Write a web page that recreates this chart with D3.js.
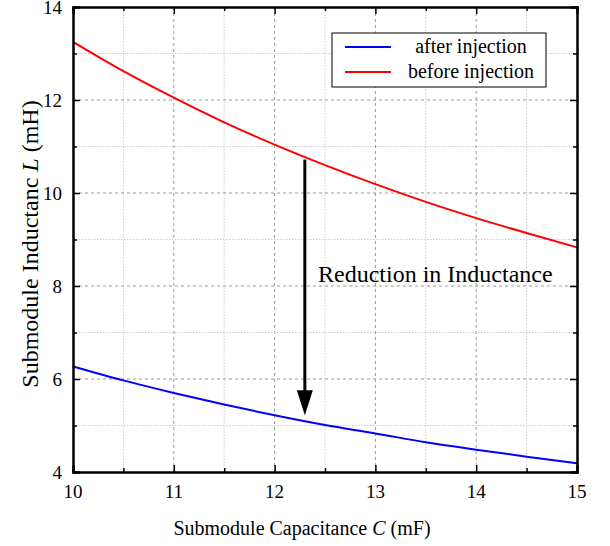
<!DOCTYPE html>
<html>
<head>
<meta charset="utf-8">
<script src="https://cdn.jsdelivr.net/npm/d3@7"></script>
<style>
  body { margin: 0; background: #fff; }
</style>
</head>
<body>
<div id="chart"></div>
<script>
// capacitance (mF)
var capacitance = [10, 10.5, 11, 11.5, 12, 12.5, 13, 13.5, 14, 14.5, 15];
// inductance (mH)
var beforeInjection = [13.25, 12.62, 12.05, 11.52, 11.04, 10.60, 10.19, 9.81, 9.46, 9.14, 8.83];
var afterInjection = [6.27, 5.97, 5.70, 5.45, 5.22, 5.01, 4.83, 4.64, 4.48, 4.33, 4.19];
var xTicks = [10, 11, 12, 13, 14, 15];
var yTicks = [4, 6, 8, 10, 12, 14];
var xMinor = [10.5, 11.5, 12.5, 13.5, 14.5];
var yMinor = [5, 7, 9, 11, 13];
// arrow: from C=12.3 on upper curve down to lower curve
var arrowC = 12.3, arrowFrom = 10.72, arrowTo = 5.22;

var serif = "'Liberation Serif', 'Times New Roman', serif";
var width = 610, height = 546;
var margin = { left: 73, right: 33, top: 7, bottom: 74 };

var svg = d3.select("#chart").append("svg")
    .attr("width", width)
    .attr("height", height)
    .attr("font-family", serif);

var x = d3.scaleLinear().domain([10, 15]).range([margin.left, width - margin.right]);
var y = d3.scaleLinear().domain([4, 14]).range([height - margin.bottom, margin.top]);

// grid
var grid = svg.append("g");
grid.selectAll(".gx").data(xTicks.slice(1, -1)).enter().append("line")
    .attr("x1", d => x(d)).attr("x2", d => x(d))
    .attr("y1", y(4)).attr("y2", y(14))
    .attr("stroke", "#999").attr("stroke-dasharray", "3,3");
grid.selectAll(".gxm").data(xMinor).enter().append("line")
    .attr("x1", d => x(d)).attr("x2", d => x(d))
    .attr("y1", y(4)).attr("y2", y(14))
    .attr("stroke", "#ccc").attr("stroke-dasharray", "1.5,1.5");
grid.selectAll(".gy").data(yTicks.slice(1, -1)).enter().append("line")
    .attr("x1", x(10)).attr("x2", x(15))
    .attr("y1", d => y(d)).attr("y2", d => y(d))
    .attr("stroke", "#999").attr("stroke-dasharray", "3,3");
grid.selectAll(".gym").data(yMinor).enter().append("line")
    .attr("x1", x(10)).attr("x2", x(15))
    .attr("y1", d => y(d)).attr("y2", d => y(d))
    .attr("stroke", "#ccc").attr("stroke-dasharray", "1.5,1.5");

// curves
var line = d3.line()
    .x((d, i) => x(capacitance[i]))
    .y(d => y(d))
    .curve(d3.curveMonotoneX);

svg.append("path").datum(beforeInjection)
    .attr("d", line).attr("fill", "none")
    .attr("stroke", "#ff0000").attr("stroke-width", 2);
svg.append("path").datum(afterInjection)
    .attr("d", line).attr("fill", "none")
    .attr("stroke", "#0000ff").attr("stroke-width", 2);

// axes with inward ticks on all sides
function tickAxis(axis, vals, len) {
    return axis.tickValues(vals).tickSize(len).tickFormat("");
}
var axBottom = svg.append("g").attr("transform", "translate(0," + y(4) + ")");
axBottom.call(tickAxis(d3.axisTop(x), xTicks, 7));
axBottom.append("g").call(tickAxis(d3.axisTop(x), xMinor, 4));
axBottom.selectAll(".lbl").data(xTicks).enter().append("text")
    .attr("class", "lbl")
    .attr("x", d => x(d)).attr("y", 26)
    .attr("text-anchor", "middle").attr("font-size", 19)
    .attr("font-family", serif).attr("fill", "#000")
    .text(d => d);

var axTop = svg.append("g").attr("transform", "translate(0," + y(14) + ")");
axTop.call(tickAxis(d3.axisBottom(x), xTicks, 7));
axTop.append("g").call(tickAxis(d3.axisBottom(x), xMinor, 4));

var axLeft = svg.append("g").attr("transform", "translate(" + x(10) + ",0)");
axLeft.call(tickAxis(d3.axisRight(y), yTicks, 7));
axLeft.append("g").call(tickAxis(d3.axisRight(y), yMinor, 4));
axLeft.selectAll(".lbl").data(yTicks).enter().append("text")
    .attr("class", "lbl")
    .attr("x", -11).attr("y", d => y(d) + 7)
    .attr("text-anchor", "end").attr("font-size", 19)
    .attr("font-family", serif).attr("fill", "#000")
    .text(d => d);

var axRight = svg.append("g").attr("transform", "translate(" + x(15) + ",0)");
axRight.call(tickAxis(d3.axisLeft(y), yTicks, 7));
axRight.append("g").call(tickAxis(d3.axisLeft(y), yMinor, 4));

svg.selectAll(".domain").attr("stroke", "#000").attr("stroke-width", 2);
svg.selectAll(".tick line").attr("stroke", "#000").attr("stroke-width", 1.5);

// axis titles
var xt = svg.append("text")
    .attr("x", 302).attr("y", 535)
    .attr("text-anchor", "middle").attr("font-size", 20);
xt.append("tspan").text("Submodule Capacitance ");
xt.append("tspan").attr("font-style", "italic").text("C");
xt.append("tspan").text(" (mF)");

var yt = svg.append("text")
    .attr("transform", "translate(38,244) rotate(-90)")
    .attr("text-anchor", "middle").attr("font-size", 24);
yt.append("tspan").text("Submodule Inductanc ");
yt.append("tspan").attr("font-style", "italic").text("L");
yt.append("tspan").text(" (mH)");

// arrow
svg.append("line")
    .attr("x1", x(arrowC)).attr("x2", x(arrowC))
    .attr("y1", y(arrowFrom)).attr("y2", y(arrowTo) - 20)
    .attr("stroke", "#000").attr("stroke-width", 3);
svg.append("path")
    .attr("d", "M" + (x(arrowC) - 8) + "," + (y(arrowTo) - 25) +
        "L" + (x(arrowC) + 8) + "," + (y(arrowTo) - 25) +
        "L" + x(arrowC) + "," + y(arrowTo) + "Z")
    .attr("fill", "#000");
svg.append("text")
    .attr("x", 318).attr("y", 282)
    .attr("font-size", 24)
    .text("Reduction in Inductance");

// legend
var legend = svg.append("g");
legend.append("rect")
    .attr("x", 332).attr("y", 33).attr("width", 214).attr("height", 54)
    .attr("fill", "#fff").attr("stroke", "#000").attr("stroke-width", 1);
var items = [
    { name: "after injection", color: "#0000ff" },
    { name: "before injection", color: "#ff0000" }
];
items.forEach(function (d, i) {
    var ly = 47 + i * 25;
    legend.append("line")
        .attr("x1", 345).attr("x2", 391).attr("y1", ly).attr("y2", ly)
        .attr("stroke", d.color).attr("stroke-width", 2);
    legend.append("text")
        .attr("x", 471).attr("y", ly + 6)
        .attr("text-anchor", "middle").attr("font-size", 20)
        .text(d.name);
});
</script>
</body>
</html>
